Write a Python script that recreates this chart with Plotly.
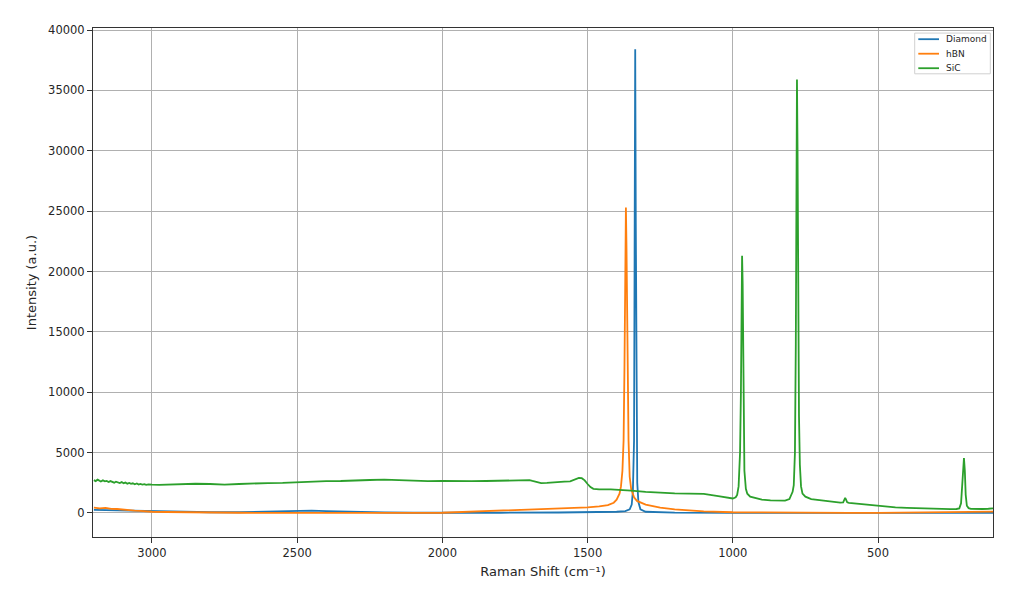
import plotly.graph_objects as go

# Raman spectra (shift in cm^-1, intensity in a.u.)
diamond_x = [3200, 3100, 3000, 2900, 2800, 2700, 2600, 2550, 2500, 2450, 2400, 2300, 2200, 2100,
             2000, 1800, 1600, 1500, 1400, 1370, 1355, 1348, 1344, 1340, 1338, 1336, 1334, 1332,
             1329, 1325, 1318, 1300, 1200, 1000, 800, 600, 400, 200, 100]
diamond_y = [250, 200, 130, 80, 60, 60, 100, 150, 180, 200, 150, 80, 40, 20,
             10, 20, 40, 60, 100, 150, 300, 700, 1800, 6000, 20000, 38400, 24000, 8000,
             2500, 900, 300, 100, 30, 10, 0, 0, 0, 0, 0]

hbn_x = [3200, 3180, 3160, 3140, 3120, 3100, 3080, 3060, 3040, 3020, 3000, 2950, 2900, 2800,
         2700, 2600, 2500, 2400, 2300, 2200, 2100, 2000, 1950, 1900, 1850, 1800, 1750, 1700,
         1650, 1600, 1550, 1500, 1460, 1430, 1410, 1400, 1390, 1385, 1380, 1376, 1373, 1370,
         1368, 1366, 1363, 1359, 1355, 1350, 1340, 1330, 1300, 1250, 1200, 1150, 1100, 1000,
         900, 800, 700, 600, 500, 400, 300, 200, 100]
hbn_y = [450, 380, 420, 340, 330, 270, 250, 200, 170, 130, 100, 80, 60, 40,
         20, 10, 0, 0, 0, 0, 10, 20, 60, 100, 150, 180, 220, 250,
         300, 350, 400, 470, 550, 650, 850, 1100, 1600, 2200, 3500, 6000, 12000, 20000,
         25300, 22000, 14000, 6000, 3000, 2000, 1300, 1000, 700, 450, 300, 200, 130, 60,
         30, 10, 0, 0, 10, 30, 60, 90, 120]

sic_x = [3200, 3194, 3187, 3181, 3176, 3169, 3162, 3156, 3149, 3143, 3137, 3130, 3124, 3117,
         3111, 3104, 3098, 3091, 3085, 3078, 3072, 3066, 3059, 3052, 3046, 3040, 3033, 3026,
         3020, 3012, 3005, 3000, 2975, 2950, 2925, 2900, 2875, 2850,
         2800, 2750, 2700, 2650, 2600, 2550, 2500, 2450, 2400, 2350, 2300, 2250, 2200, 2150,
         2100, 2050, 2000, 1950, 1900, 1850, 1800, 1750, 1720, 1700, 1690, 1680, 1660, 1640,
         1620, 1600, 1580, 1560, 1540, 1530, 1520, 1510, 1500, 1490, 1480, 1460, 1420, 1380,
         1350, 1300, 1250, 1200, 1150, 1100, 1050, 1020, 1000, 990, 985, 980, 975, 972,
         970, 968, 966, 964, 962, 960, 955, 950, 940, 920, 900, 870, 840, 820,
         805, 798, 794, 790, 786, 783, 781, 779, 777, 775, 772, 769, 765, 760,
         750, 730, 700, 670, 650, 630, 620, 616, 613, 610, 606, 600, 580, 550,
         520, 500, 470, 440, 400, 370, 340, 300, 270, 250, 230, 220, 214, 210,
         207, 204, 201, 198, 194, 188, 180, 160, 140, 120, 104]
sic_y = [2720, 2640, 2760, 2680, 2610, 2700, 2620, 2660, 2560, 2640, 2580, 2510, 2590, 2530,
         2480, 2560, 2470, 2520, 2430, 2490, 2420, 2460, 2380, 2440, 2360, 2410, 2350, 2390,
         2330, 2370, 2320, 2340, 2330, 2360, 2340, 2380, 2400, 2420,
         2400, 2350, 2400, 2470, 2480, 2500, 2560, 2620, 2640, 2650, 2720, 2730, 2760, 2700,
         2680, 2640, 2650, 2620, 2630, 2650, 2670, 2680, 2700, 2720, 2650, 2600, 2480, 2500,
         2550, 2560, 2600, 2620, 2800, 2900, 2880, 2700, 2400, 2150, 2000, 1950, 1950, 1920,
         1850, 1750, 1660, 1630, 1600, 1580, 1400, 1250, 1200, 1300, 1500, 2200, 5000, 10000,
         16000, 21300, 19000, 12000, 6000, 3500, 2000, 1600, 1350, 1200, 1100, 1050, 1020, 1030,
         1150, 1600, 1750, 2300, 5000, 14000, 28000, 35900, 30000, 18000, 8000, 4000, 2200, 1600,
         1350, 1150, 1050, 950, 900, 860, 880, 1050, 1250, 1100, 880, 830, 780, 700,
         620, 560, 500, 460, 420, 390, 360, 340, 330, 320, 330, 380, 800, 2500,
         4000, 4550, 3500, 1500, 600, 400, 340, 320, 330, 350, 380]

series = [
    ("Diamond", diamond_x, diamond_y, "#1f77b4"),
    ("hBN", hbn_x, hbn_y, "#ff7f0e"),
    ("SiC", sic_x, sic_y, "#2ca02c"),
]

x_ticks = [3000, 2500, 2000, 1500, 1000, 500]
y_ticks = [0, 5000, 10000, 15000, 20000, 25000, 30000, 35000, 40000]

font = "DejaVu Sans, Liberation Sans, sans-serif"

fig = go.Figure()
for name, xs, ys, colour in series:
    fig.add_trace(go.Scatter(x=xs, y=ys, mode="lines", name=name, showlegend=False,
                             line=dict(color=colour, width=1.8)))

# plotly's own legend rows are too tall, so draw a compact matplotlib-like legend
fig.add_shape(type="rect", xref="paper", yref="paper", x0=0.913, x1=0.997, y0=0.910, y1=0.990,
              line=dict(color="#d0d0d0", width=1), fillcolor="rgba(255,255,255,0.85)")
for i, (name, _, _, colour) in enumerate(series):
    ypos = 0.978 - i * 0.0285
    fig.add_shape(type="line", xref="paper", yref="paper", x0=0.917, x1=0.940, y0=ypos, y1=ypos,
                  line=dict(color=colour, width=1.8))
    fig.add_annotation(text=name, xref="paper", yref="paper", x=0.945, y=ypos,
                       xanchor="left", yanchor="middle", showarrow=False,
                       font=dict(size=9, color="#262626"))

axis_common = dict(
    showgrid=True, gridcolor="#b0b0b0", gridwidth=0.8,
    showline=True, linecolor="#333333", linewidth=1, mirror=True,
    ticks="outside", ticklen=5, tickcolor="#333333",
    zeroline=False, tickformat="d", tickfont=dict(size=11.5, color="#262626"),
)

fig.update_xaxes(
    range=[3203, 104], tickvals=x_ticks,
    title=dict(text="Raman Shift (cm⁻¹)", font=dict(size=13, color="#262626"), standoff=8),
    **axis_common,
)
fig.update_yaxes(
    range=[-1990, 40170], tickvals=y_ticks,
    title=dict(text="Intensity (a.u.)", font=dict(size=13, color="#262626"), standoff=8),
    **axis_common,
)

# page body adds ~8px offset, so margins are shifted to land the plot area where the reference has it
fig.update_layout(
    width=1024, height=602,
    margin=dict(l=85, r=39, t=20, b=73),
    paper_bgcolor="white", plot_bgcolor="white",
    font=dict(family=font),
)

fig.write_html("out.html")
